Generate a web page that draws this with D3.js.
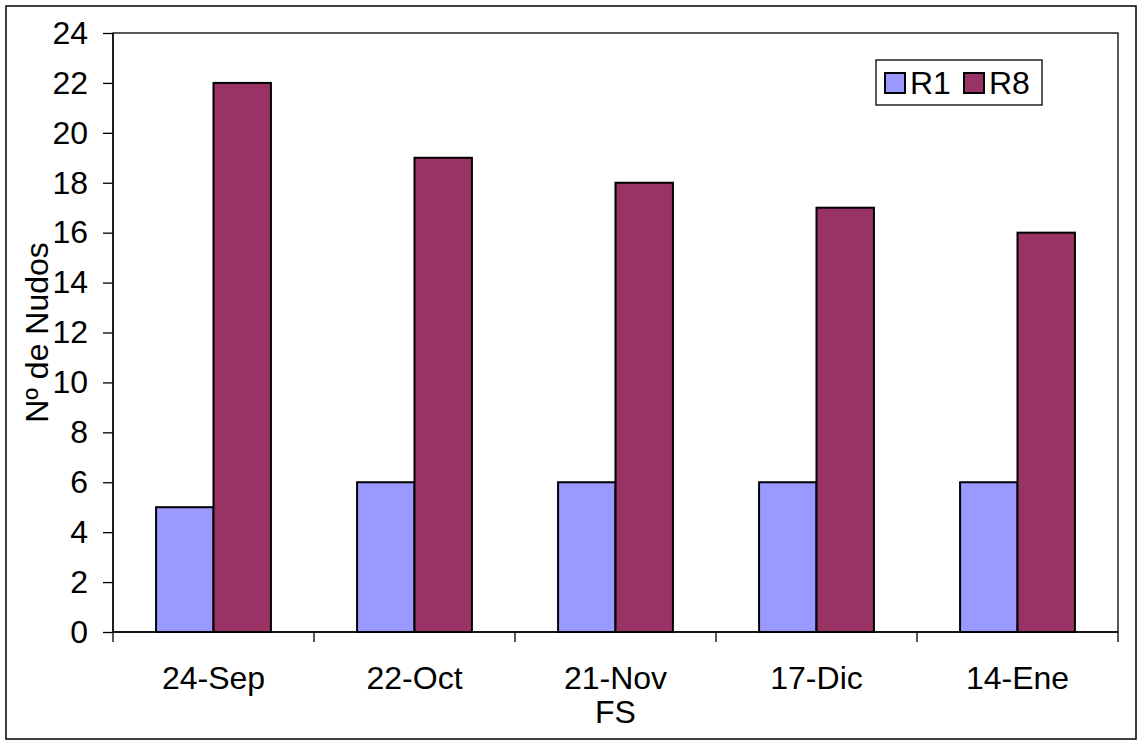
<!DOCTYPE html>
<html lang="es">
<head>
<meta charset="UTF-8">
<title>Nº de Nudos</title>
<script src="https://d3js.org/d3.v7.min.js"></script>
<style>
    body { margin: 0; padding: 0; background: #fff; }
    svg { display: block; font-family: Arial, "Liberation Sans", sans-serif; }
    .axis text { font-size: 32px; fill: #000; }
    .axis path, .axis line { stroke: #000; stroke-width: 1.3px; }
</style>
</head>
<body>
<svg width="1138" height="740"></svg>
<script>
// datos
const fechas = ["24-Sep", "22-Oct", "21-Nov", "17-Dic", "14-Ene"];
const series = ["R1", "R8"];
const valoresR1 = [5, 6, 6, 6, 6];
const valoresR8 = [22, 19, 18, 17, 16];
const yTicks = [0, 2, 4, 6, 8, 10, 12, 14, 16, 18, 20, 22, 24];
const colores = ["#9999ff", "#993366"];

const svg = d3.select("svg");
const margin = { left: 113, top: 33, right: 1118, bottom: 632 };

// borde exterior
svg.append("rect")
    .attr("x", 6).attr("y", 6)
    .attr("width", 1130).attr("height", 733)
    .attr("fill", "none").attr("stroke", "#000").attr("stroke-width", 1.5);

const x = d3.scaleBand().domain(fechas).range([margin.left, margin.right]);
const x1 = d3.scaleBand().domain(series).range([0, x.bandwidth()]).paddingInner(0).paddingOuter(0.75);
const y = d3.scaleLinear().domain([0, 24]).range([margin.bottom, margin.top]);

// borde del área de trazado
svg.append("rect")
    .attr("x", margin.left).attr("y", margin.top)
    .attr("width", margin.right - margin.left).attr("height", margin.bottom - margin.top)
    .attr("fill", "none").attr("stroke", "#000").attr("stroke-width", 1.3);

const filas = fechas.map((f, i) => ({ fecha: f, R1: valoresR1[i], R8: valoresR8[i] }));

svg.append("g")
    .selectAll("g")
    .data(filas)
    .join("g")
    .attr("transform", d => `translate(${x(d.fecha)},0)`)
    .selectAll("rect")
    .data(d => series.map((s, j) => ({ s, j, v: d[s] })))
    .join("rect")
    .attr("x", d => x1(d.s))
    .attr("y", d => y(d.v))
    .attr("width", x1.bandwidth())
    .attr("height", d => y(0) - y(d.v))
    .attr("fill", d => colores[d.j])
    .attr("stroke", "#000")
    .attr("stroke-width", 2);

// eje y
svg.append("g")
    .attr("class", "axis")
    .attr("transform", `translate(${margin.left},0)`)
    .call(d3.axisLeft(y).tickValues(yTicks).tickSize(10).tickPadding(15))
    .call(g => g.select(".domain").attr("d", `M0,${margin.top}V${margin.bottom}`))
    .selectAll("text").attr("font-family", null).attr("font-size", null);

// eje x
const gx = svg.append("g")
    .attr("class", "axis")
    .attr("transform", `translate(0,${margin.bottom})`)
    .call(d3.axisBottom(x).tickSize(0).tickPadding(34))
    .call(g => g.select(".domain").attr("d", `M${margin.left},0H${margin.right}`));
gx.selectAll("text").attr("font-family", null).attr("font-size", null);

// marcas entre categorías
gx.selectAll(".sep")
    .data(fechas.concat(["fin"]))
    .join("line")
    .attr("class", "sep")
    .attr("x1", (d, i) => margin.left + i * x.step())
    .attr("x2", (d, i) => margin.left + i * x.step())
    .attr("y1", 0).attr("y2", 10);

// títulos
svg.append("text")
    .attr("x", x.range()[0] / 2 + x.range()[1] / 2)
    .attr("y", 723)
    .attr("text-anchor", "middle")
    .attr("font-size", 32)
    .text("FS");

svg.append("text")
    .attr("transform", `translate(48,${(margin.top + margin.bottom) / 2}) rotate(-90)`)
    .attr("text-anchor", "middle")
    .attr("font-size", 32)
    .text("Nº de Nudos");

// leyenda
const leyenda = svg.append("g").attr("transform", "translate(876,60)");
leyenda.append("rect")
    .attr("width", 166).attr("height", 45)
    .attr("fill", "#fff").attr("stroke", "#000").attr("stroke-width", 1.3);
series.forEach((s, i) => {
    const gi = leyenda.append("g").attr("transform", `translate(${9 + i * 79},13)`);
    gi.append("rect")
        .attr("width", 20).attr("height", 20)
        .attr("fill", colores[i]).attr("stroke", "#000").attr("stroke-width", 2);
    gi.append("text")
        .attr("x", 25).attr("y", 21)
        .attr("font-size", 32)
        .text(s);
});
</script>
</body>
</html>
